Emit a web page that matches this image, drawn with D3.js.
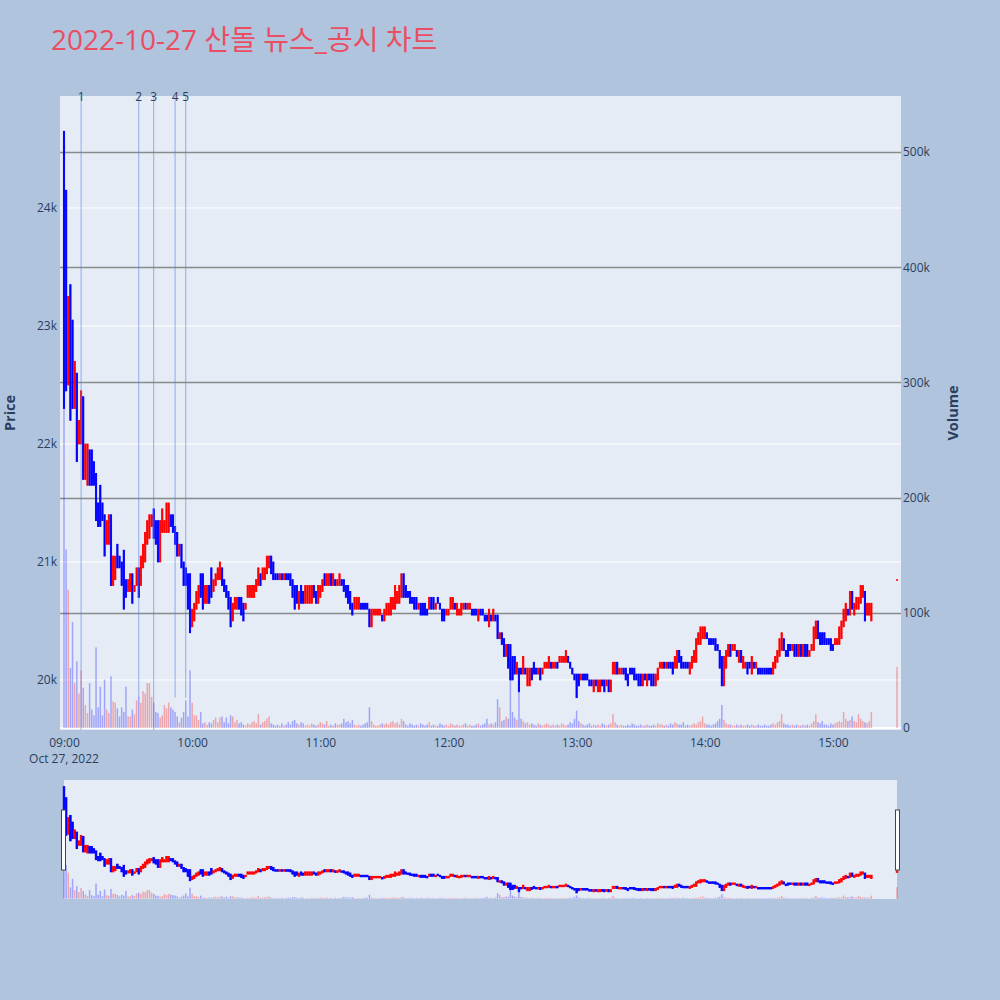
<!DOCTYPE html>
<html><head><meta charset="utf-8">
<script src="https://cdn.jsdelivr.net/npm/d3@7/dist/d3.min.js"></script>
<style>
html,body{margin:0;padding:0;background:#B0C4DE;}
svg{display:block;font-family:"Open Sans","Noto Sans CJK KR",sans-serif;}
</style></head><body>
<svg id="chart" width="1000" height="1000"></svg>
<script>
const chartTitle = "2022-10-27 산돌 뉴스_공시 차트";
const sessionDate = "2022-10-27";
const sessionOpen = "09:00";
const continuousEnd = "15:19";      // exclusive end of 1-minute candles
const closingAuction = "15:30";
const dateLabel = "Oct 27, 2022";

const opens = [
24650,24150,22500,23350,23050,22300,22600,22000,22000,22400,
21700,21650,21950,21950,21850,21750,21500,21650,21500,21400,
21150,21150,21400,20800,20850,21150,21050,21000,21100,20850,
20750,20750,20900,20750,20800,20950,20800,20950,21000,21150,
21200,21300,21450,21350,21350,21000,21250,21250,21250,21250,
21400,21400,21300,21250,21050,21150,21000,20950,20900,20900,
20450,20500,20600,20650,20900,20900,20650,20650,20800,20950,
20750,20800,20850,20850,20950,20850,20800,20750,20700,20500,
20600,20600,20700,20700,20650,20600,20700,20700,20700,20700,
20750,20800,20900,20850,20850,20900,20950,21050,21000,20900,
20900,20850,20900,20850,20900,20900,20900,20850,20800,20800,
20600,20800,20750,20650,20650,20650,20650,20800,20750,20650,
20700,20750,20900,20800,20800,20900,20800,20850,20800,20800,
20850,20850,20800,20800,20750,20650,20600,20600,20600,20650,
20650,20650,20650,20600,20450,20550,20550,20550,20550,20550,
20500,20550,20550,20550,20600,20600,20650,20650,20700,20900,
20800,20750,20750,20700,20700,20700,20600,20650,20650,20650,
20600,20600,20700,20700,20600,20700,20650,20600,20600,20550,
20550,20600,20600,20650,20550,20550,20550,20600,20650,20600,
20600,20600,20600,20600,20500,20600,20600,20550,20550,20450,
20550,20500,20550,20550,20350,20400,20350,20200,20300,20300,
20200,20200,20050,20100,20100,20050,20100,19950,19950,20100,
20150,20100,20050,20100,20050,20100,20100,20100,20150,20100,
20100,20150,20150,20150,20150,20150,20200,20150,20100,20050,
20050,20050,20000,20050,20050,20050,20000,20000,19900,20000,
19900,19900,20000,20000,19950,20000,19900,20050,20050,20150,
20050,20050,20100,20100,20050,20100,20100,20100,20050,20050,
20050,19950,20050,19950,20050,20050,20050,19950,20000,20100,
20100,20150,20100,20150,20150,20150,20100,20100,20250,20200,
20150,20150,20150,20050,20100,20150,20150,20300,20300,20350,
20350,20400,20350,20350,20350,20350,20300,20250,20200,19950,
20100,20200,20300,20250,20250,20250,20150,20250,20100,20100,
20150,20150,20050,20150,20100,20100,20100,20100,20100,20100,
20100,20100,20050,20100,20150,20200,20250,20350,20250,20300,
20300,20250,20300,20300,20200,20300,20200,20300,20300,20200,
20250,20250,20350,20500,20400,20400,20400,20350,20350,20350,
20300,20300,20300,20300,20350,20450,20500,20600,20550,20750,
20550,20600,20600,20650,20700,20750,20550,20550,20500,
20850];

const highs = [
24650,24150,23250,23350,23050,22700,22600,22200,22450,22400,
22000,22000,21950,21950,21850,21750,21500,21650,21500,21400,
21350,21400,21400,21050,21050,21150,21050,21000,21100,20850,
20850,20900,20900,20800,20950,20950,21050,21150,21250,21350,
21400,21400,21450,21350,21350,21350,21450,21350,21500,21500,
21400,21400,21300,21250,21150,21150,21000,20950,20900,20900,
20600,20650,20750,20800,20900,20900,20800,20800,20800,20950,
20850,20900,20950,21000,20950,20850,20800,20750,20700,20650,
20700,20700,20700,20700,20650,20650,20800,20800,20800,20800,
20850,20950,20900,20950,20950,21050,21050,21050,21000,20900,
20900,20900,20900,20900,20900,20900,20900,20850,20800,20800,
20750,20800,20750,20800,20800,20800,20800,20800,20750,20800,
20800,20850,20900,20900,20900,20900,20900,20850,20850,20900,
20850,20850,20800,20800,20750,20650,20700,20700,20700,20650,
20650,20650,20650,20600,20600,20600,20600,20600,20600,20550,
20600,20650,20650,20700,20700,20800,20750,20800,20900,20900,
20800,20750,20750,20700,20700,20700,20650,20650,20650,20650,
20600,20700,20700,20700,20650,20700,20650,20600,20600,20600,
20600,20700,20700,20650,20650,20600,20650,20650,20650,20650,
20650,20600,20600,20600,20600,20600,20600,20550,20550,20600,
20550,20600,20550,20550,20400,20400,20350,20300,20300,20300,
20200,20200,20150,20100,20100,20200,20100,20100,20100,20100,
20150,20100,20100,20100,20100,20150,20150,20200,20150,20150,
20150,20150,20200,20200,20200,20250,20200,20150,20100,20050,
20050,20050,20050,20050,20050,20050,20000,20000,20000,20000,
20000,20000,20000,20000,20000,20000,20000,20150,20150,20150,
20100,20100,20100,20100,20050,20100,20100,20100,20050,20050,
20050,20050,20050,20050,20050,20050,20050,20050,20100,20150,
20150,20150,20150,20150,20150,20150,20200,20250,20250,20200,
20150,20150,20150,20150,20200,20250,20350,20400,20450,20450,
20450,20400,20350,20350,20350,20350,20300,20250,20200,20200,
20250,20300,20300,20300,20300,20250,20250,20250,20200,20150,
20150,20150,20200,20150,20150,20100,20100,20100,20100,20100,
20100,20100,20150,20200,20250,20350,20400,20350,20250,20300,
20300,20300,20300,20300,20300,20300,20300,20300,20300,20250,
20300,20450,20500,20500,20400,20400,20400,20350,20350,20350,
20300,20350,20350,20450,20500,20600,20650,20600,20750,20750,
20650,20700,20700,20800,20800,20750,20650,20650,20650,
20850];

const lows = [
22300,22450,22500,22200,22300,22300,21850,22000,22000,21700,
21700,21650,21650,21650,21650,21350,21300,21300,21350,21050,
21150,21150,20800,20800,20850,20950,20950,20800,20600,20700,
20750,20750,20650,20750,20800,20700,20800,20950,21000,21150,
21200,21300,21200,21150,21000,21000,21250,21250,21250,21250,
21300,21250,21150,21050,21050,20950,20800,20800,20600,20400,
20450,20500,20600,20650,20700,20600,20650,20650,20650,20700,
20750,20800,20850,20850,20800,20750,20700,20600,20450,20500,
20600,20600,20600,20550,20500,20600,20700,20700,20700,20700,
20750,20800,20800,20850,20850,20900,20950,20900,20850,20850,
20850,20850,20850,20850,20850,20850,20800,20700,20600,20650,
20600,20650,20650,20650,20650,20650,20650,20700,20650,20650,
20700,20750,20800,20800,20800,20800,20800,20800,20800,20800,
20800,20750,20700,20650,20600,20550,20600,20600,20600,20600,
20600,20600,20600,20450,20450,20550,20550,20550,20550,20500,
20500,20550,20550,20550,20600,20600,20650,20650,20700,20700,
20700,20700,20650,20650,20600,20600,20600,20550,20550,20550,
20550,20600,20600,20600,20600,20650,20600,20500,20500,20550,
20550,20600,20600,20600,20550,20550,20550,20600,20600,20600,
20600,20550,20550,20550,20500,20550,20550,20500,20500,20450,
20500,20500,20500,20350,20350,20300,20200,20200,20100,20000,
20000,20050,20050,19900,20050,20050,20050,19950,19950,20000,
20050,20050,20050,20000,20050,20100,20100,20100,20100,20100,
20100,20100,20150,20150,20150,20150,20150,20100,20050,20000,
19850,19950,20000,20000,20000,20000,19950,19950,19900,19950,
19900,19900,19950,19900,19950,19900,19900,20050,20050,20050,
20050,20050,20050,20000,19950,20050,20050,20000,20000,19950,
19950,19950,20000,19950,20000,19950,19950,19950,20000,20100,
20100,20100,20100,20100,20100,20050,20100,20100,20150,20100,
20100,20100,20100,20050,20100,20150,20150,20300,20300,20350,
20350,20350,20300,20300,20300,20250,20250,20100,19950,19950,
20100,20200,20200,20250,20250,20200,20150,20150,20100,20100,
20050,20100,20050,20100,20100,20050,20050,20050,20050,20050,
20050,20050,20050,20100,20150,20200,20250,20250,20200,20200,
20250,20250,20200,20200,20200,20200,20200,20200,20200,20200,
20250,20250,20350,20350,20300,20300,20300,20300,20300,20250,
20250,20300,20300,20300,20350,20450,20500,20550,20550,20600,
20550,20600,20600,20650,20700,20500,20550,20550,20500,
20850];

const closes = [
22300,22450,23250,22200,22300,22700,21850,22200,22450,21700,
22000,22000,21650,21650,21650,21350,21300,21300,21350,21050,
21350,21400,20800,21050,21050,20950,20950,20800,20600,20700,
20850,20900,20650,20800,20950,20700,21050,21150,21250,21350,
21400,21400,21200,21150,21000,21350,21450,21350,21500,21500,
21300,21250,21150,21050,21150,20950,20800,20800,20600,20400,
20600,20650,20750,20800,20700,20600,20800,20800,20650,20700,
20850,20900,20950,21000,20800,20750,20700,20600,20450,20650,
20700,20700,20600,20550,20500,20650,20800,20800,20800,20800,
20850,20950,20800,20950,20950,21050,21050,20900,20850,20850,
20850,20900,20850,20900,20850,20850,20800,20700,20600,20650,
20750,20650,20650,20800,20800,20800,20800,20700,20650,20800,
20800,20850,20800,20900,20900,20800,20900,20800,20850,20900,
20800,20750,20700,20650,20600,20550,20700,20700,20700,20600,
20600,20600,20600,20450,20600,20600,20600,20600,20600,20500,
20600,20650,20650,20700,20700,20800,20750,20800,20900,20700,
20700,20700,20650,20650,20600,20600,20650,20550,20550,20550,
20550,20700,20600,20600,20650,20650,20600,20500,20500,20600,
20600,20700,20700,20600,20650,20600,20650,20650,20600,20650,
20650,20550,20550,20550,20600,20550,20550,20500,20500,20600,
20500,20600,20500,20350,20400,20300,20200,20300,20100,20000,
20000,20050,20150,19900,20050,20200,20050,20100,20100,20000,
20050,20050,20100,20000,20100,20150,20150,20200,20100,20150,
20150,20100,20200,20200,20200,20250,20150,20100,20050,20000,
19850,19950,20050,20000,20000,20000,19950,19950,20000,19950,
20000,20000,19950,19900,20000,19900,20000,20150,20150,20050,
20100,20100,20050,20000,19950,20050,20050,20000,20000,19950,
19950,20050,20000,20050,20000,19950,19950,20050,20100,20150,
20150,20100,20150,20100,20100,20050,20200,20250,20150,20100,
20100,20100,20100,20150,20200,20250,20350,20400,20450,20450,
20450,20350,20300,20300,20300,20250,20250,20100,19950,20200,
20250,20300,20200,20300,20300,20200,20250,20150,20200,20150,
20050,20100,20200,20100,20150,20050,20050,20050,20050,20050,
20050,20050,20150,20200,20250,20350,20400,20250,20200,20200,
20250,20300,20200,20200,20300,20200,20300,20200,20200,20250,
20300,20450,20500,20350,20300,20300,20300,20300,20300,20250,
20250,20350,20350,20450,20500,20600,20650,20550,20750,20600,
20650,20700,20700,20800,20800,20500,20650,20650,20650,
20850];

// volume in thousands of shares
const volumesK = [
515,155,120,52,92,39,58,30,50,35,
20,13,39,16,11,70,18,36,11,42,
16,13,45,23,22,17,10,18,14,36,
10,10,16,12,24,27,22,32,30,39,
39,27,22,14,13,9,11,20,17,22,
18,16,14,10,5,9,14,24,10,50,
22,11,11,7,14,4,5,3,5,4,
7,9,5,9,10,5,9,4,11,10,
5,7,4,5,3,2,4,3,5,6,
4,12,3,5,6,8,10,4,3,2,
3,2,4,2,3,5,3,6,7,4,
3,5,4,2,3,2,4,3,2,3,
5,4,3,6,2,3,2,4,3,3,
4,8,5,6,4,7,3,2,3,2,
3,4,5,18,6,3,2,2,3,4,
3,4,3,5,6,4,5,3,8,6,
3,2,4,3,2,3,2,4,3,2,
3,5,2,3,2,2,4,3,2,3,
2,4,3,2,3,2,2,3,4,2,
3,2,2,3,4,2,3,4,8,3,
4,3,5,25,18,6,7,10,8,60,
14,9,7,40,8,6,4,5,3,4,
3,2,4,3,2,3,4,3,2,3,
2,3,2,4,3,2,3,5,4,8,
15,6,4,3,2,3,4,2,3,2,
3,2,4,3,2,3,4,12,5,3,
2,3,2,2,3,2,4,3,2,2,
3,2,2,3,2,2,3,2,4,3,
3,2,3,2,4,3,5,4,3,3,
5,2,3,2,3,4,3,5,6,10,
4,3,3,2,3,4,6,8,20,7,
4,3,3,2,2,3,2,3,2,2,
3,2,3,2,2,3,2,2,3,2,
2,3,4,3,5,6,12,4,3,3,
2,3,2,3,2,2,3,2,3,2,
4,6,12,5,4,6,3,3,2,4,
3,4,5,6,5,14,8,6,7,10,
6,5,12,8,6,5,4,6,14,
53];

const newsTimes = ["09:08","09:35","09:42","09:52","09:57"];
const newsLabels = ["1","2","3","4","5"];
const newsFullHeight = [true,false,true,false,false];

const priceTicks = [20000,21000,22000,23000,24000];
const volumeTicksK = [0,100,200,300,400,500];
const timeTicks = ["09:00","10:00","11:00","12:00","13:00","14:00","15:00"];

// ---------- drawing ----------
const parse = d3.timeParse("%Y-%m-%d %H:%M");
const times = d3.timeMinute.range(parse(sessionDate+" "+sessionOpen), parse(sessionDate+" "+continuousEnd))
  .concat([parse(sessionDate+" "+closingAuction)]);
const n = Math.min(times.length, opens.length, highs.length, lows.length, closes.length, volumesK.length);
const data = d3.range(n).map(i => ({t: times[i], o: opens[i], h: highs[i], l: lows[i], c: closes[i], v: volumesK[i]}));

const P = {l: 60, r: 901, t: 96, b: 730};
const S = {t: 780, b: 899};
const UP = "#FF0000", DOWN = "#0000FF";
const TXT = "#2a3f5f";

const x = d3.scaleTime().domain([times[0], times[times.length-1]]).range([64, 897]);
const priceRange = [19576, 24949];
const volRangeK = [-1.74, 548.6];
const yP = d3.scaleLinear().domain(priceRange).range([P.b, P.t]);
const yV = d3.scaleLinear().domain(volRangeK).range([P.b, P.t]);
const yPs = d3.scaleLinear().domain(priceRange).range([S.b, S.t]);
const yVs = d3.scaleLinear().domain(volRangeK).range([S.b, S.t]);

const svg = d3.select("#chart");
svg.append("rect").attr("width",1000).attr("height",1000).attr("fill","#B0C4DE");

// title
svg.append("text").attr("x",51).attr("y",50).attr("font-size",28).attr("fill","#EA4E63")
  .text(chartTitle);

// plot background
svg.append("rect").attr("x",P.l).attr("y",P.t).attr("width",P.r-P.l).attr("height",P.b-P.t).attr("fill","#E5ECF6");

const defs = svg.append("defs");
defs.append("clipPath").attr("id","plotclip").append("rect")
  .attr("x",P.l).attr("y",P.t).attr("width",P.r-P.l).attr("height",P.b-P.t);

// price grid (white)
svg.append("g").selectAll("line").data(priceTicks).join("line")
  .attr("x1",P.l).attr("x2",P.r).attr("y1",d=>yP(d)).attr("y2",d=>yP(d))
  .attr("stroke","#ffffff").attr("stroke-width",1);

// volume grid (gray)
svg.append("g").selectAll("line").data(volumeTicksK.filter(d=>d>0)).join("line")
  .attr("x1",P.l).attr("x2",P.r).attr("y1",d=>Math.round(yV(d))+0.5).attr("y2",d=>Math.round(yV(d))+0.5)
  .attr("stroke","#7a7a7a").attr("stroke-width",1.3).attr("opacity",0.85);
// volume zero line
svg.append("line").attr("x1",P.l).attr("x2",P.r).attr("y1",yV(0)).attr("y2",yV(0))
  .attr("stroke","#ffffff").attr("stroke-width",2);

const plotG = svg.append("g").attr("clip-path","url(#plotclip)");

// volume bars
plotG.append("g").selectAll("rect").data(data).join("rect")
  .attr("x",d=>x(d.t)-0.75).attr("width",1.5)
  .attr("y",d=>yV(d.v)).attr("height",d=>Math.max(0,yV(0)-yV(d.v)))
  .attr("fill",d=>d.c>=d.o?UP:DOWN).attr("opacity",0.3);

// candles
function drawCandles(g, ys, bodyW, minH) {
  const cg = g.append("g");
  cg.selectAll("line").data(data).join("line")
    .attr("x1",d=>x(d.t)).attr("x2",d=>x(d.t))
    .attr("y1",d=>ys(d.h)).attr("y2",d=>ys(d.l))
    .attr("stroke",d=>d.c>=d.o?UP:DOWN).attr("stroke-width",1);
  cg.selectAll("rect").data(data).join("rect")
    .attr("x",d=>x(d.t)-bodyW/2).attr("width",bodyW)
    .attr("y",d=>ys(Math.max(d.o,d.c)))
    .attr("height",d=>Math.max(minH, Math.abs(ys(d.o)-ys(d.c))))
    .attr("fill",d=>d.c>=d.o?UP:DOWN)
    .attr("stroke",d=>d.c>=d.o?UP:DOWN).attr("stroke-width",0.8);
}
drawCandles(plotG, yP, 1.3, 0.6);

// news lines
const dayLow = d3.min(lows);
const newsG = svg.append("g");
newsTimes.forEach((tm,i)=>{
  const xx = x(parse(sessionDate+" "+tm));
  newsG.append("line").attr("x1",xx).attr("x2",xx).attr("y1",P.t)
    .attr("y2", newsFullHeight[i] ? P.b : yP(dayLow))
    .attr("stroke","#5b7fe3").attr("stroke-width",1).attr("opacity",0.6);
  newsG.append("text").attr("x",xx).attr("y",101).attr("text-anchor","middle")
    .attr("font-size",12).attr("fill",TXT).text(newsLabels[i]);
});

// axes
const axP = svg.append("g").attr("transform",`translate(${P.l},0)`)
  .call(d3.axisLeft(yP).tickValues(priceTicks).tickFormat(d=>(d/1000)+"k").tickSize(0).tickPadding(3));
const axV = svg.append("g").attr("transform",`translate(${P.r},0)`)
  .call(d3.axisRight(yV).tickValues(volumeTicksK).tickFormat(d=>d===0?"0":d+"k").tickSize(0).tickPadding(2));
const axX = svg.append("g").attr("transform",`translate(0,${P.b})`)
  .call(d3.axisBottom(x).tickValues(timeTicks.map(t=>parse(sessionDate+" "+t))).tickFormat(d3.timeFormat("%H:%M")).tickSize(0).tickPadding(8));
[axP,axV,axX].forEach(a=>{
  a.select(".domain").remove();
  a.attr("font-family",null).attr("font-size",null);
  a.selectAll("text").attr("font-size",12).attr("fill",TXT).attr("font-family",'"Open Sans",sans-serif');
});
svg.append("text").attr("x",x(times[0])).attr("y",763).attr("text-anchor","middle")
  .attr("font-size",12).attr("fill",TXT).text(dateLabel);

// axis titles
svg.append("text").attr("transform",`translate(15,${(P.t+P.b)/2}) rotate(-90)`)
  .attr("text-anchor","middle").attr("font-size",14.5).attr("font-weight","bold").attr("fill",TXT).text("Price");
svg.append("text").attr("transform",`translate(958,${(P.t+P.b)/2}) rotate(-90)`)
  .attr("text-anchor","middle").attr("font-size",14.5).attr("font-weight","bold").attr("fill",TXT).text("Volume");

// range slider
svg.append("rect").attr("x",x(times[0])).attr("y",S.t).attr("width",x(times[times.length-1])-x(times[0]))
  .attr("height",S.b-S.t).attr("fill","#E5ECF6");
const sg = svg.append("g");
sg.append("g").selectAll("rect").data(data).join("rect")
  .attr("x",d=>x(d.t)-0.75).attr("width",1.5)
  .attr("y",d=>yVs(d.v)).attr("height",d=>Math.max(0,yVs(0)-yVs(d.v)))
  .attr("fill",d=>d.c>=d.o?UP:DOWN).attr("opacity",0.3);
drawCandles(sg, yPs, 1.6, 1.6);
[x(times[0])-2.5, x(times[times.length-1])-1.5].forEach(hx=>{
  svg.append("rect").attr("x",hx).attr("y",810).attr("width",4).attr("height",60)
    .attr("fill","#ffffff").attr("stroke","#444").attr("stroke-width",1);
});
</script>
</body></html>
